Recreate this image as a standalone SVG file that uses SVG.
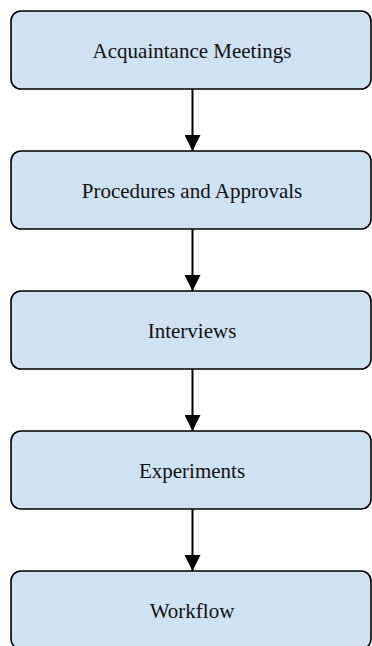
<svg xmlns="http://www.w3.org/2000/svg" width="372" height="646" viewBox="0 0 372 646">
<style>
.box{fill:#cfe2f3;stroke:#000;stroke-width:1.6}
.lbl{font-family:"Liberation Serif","Times New Roman",serif;font-size:21px;fill:#111;text-anchor:middle}
.edge{stroke:#000;stroke-width:2;fill:none}
</style>
<defs>
<marker id="ah" markerUnits="userSpaceOnUse" markerWidth="16" markerHeight="16" refX="16" refY="8" orient="auto">
<path d="M0,0 L16,8 L0,16 Z" fill="#000"/>
</marker>
</defs>
<g id="n1"><rect class="box" x="11" y="11" width="360" height="78" rx="10"/><text class="lbl" x="192" y="58">Acquaintance Meetings</text></g>
<g id="n2"><rect class="box" x="11" y="151" width="360" height="78" rx="10"/><text class="lbl" x="192" y="198">Procedures and Approvals</text></g>
<g id="n3"><rect class="box" x="11" y="291" width="360" height="78" rx="10"/><text class="lbl" x="192" y="338">Interviews</text></g>
<g id="n4"><rect class="box" x="11" y="431" width="360" height="78" rx="10"/><text class="lbl" x="192" y="478">Experiments</text></g>
<g id="n5"><rect class="box" x="11" y="571" width="360" height="78" rx="10"/><text class="lbl" x="192" y="618">Workflow</text></g>
<g id="edges">
<line class="edge" x1="192.5" y1="89" x2="192.5" y2="151" marker-end="url(#ah)"/>
<line class="edge" x1="192.5" y1="229" x2="192.5" y2="291" marker-end="url(#ah)"/>
<line class="edge" x1="192.5" y1="369" x2="192.5" y2="431" marker-end="url(#ah)"/>
<line class="edge" x1="192.5" y1="509" x2="192.5" y2="571" marker-end="url(#ah)"/>
</g>
</svg>
